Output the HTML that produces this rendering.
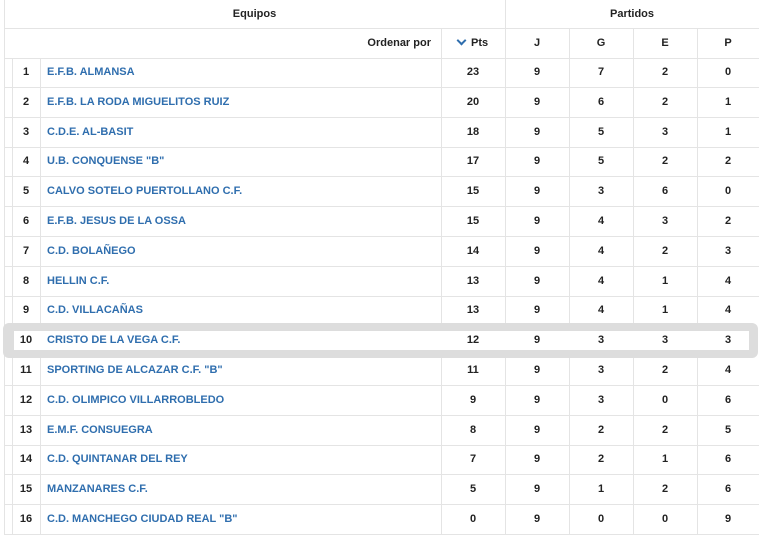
<!DOCTYPE html>
<html><head><style>
body{margin:0;width:759px;height:534px;background:#fff;font-family:"Liberation Sans",Arial,sans-serif;position:relative;overflow:hidden;font-weight:bold;font-size:11px;color:#222}
.a{position:absolute}
.vl{position:absolute;width:1px;background:#e4e4e4}
.hl{position:absolute;height:1px;background:#e4e4e4}
.c{position:absolute;text-align:center;line-height:30px;height:30px}
.n{position:absolute;line-height:30px;height:30px;color:#2f6eae}
</style></head><body>
<div class="vl" style="left:4px;top:0;height:534px"></div>
<div class="vl" style="left:505px;top:0;height:534px"></div>
<div class="vl" style="left:441px;top:28px;height:506px"></div>
<div class="vl" style="left:569px;top:28px;height:506px"></div>
<div class="vl" style="left:633px;top:28px;height:506px"></div>
<div class="vl" style="left:697px;top:28px;height:506px"></div>
<div class="vl" style="left:12px;top:58px;height:476px"></div>
<div class="vl" style="left:40px;top:58px;height:476px"></div>
<div class="hl" style="left:4px;top:28px;width:755px"></div>
<div class="hl" style="left:4px;top:58px;width:755px"></div>
<div class="c" style="left:4px;width:501px;top:0;line-height:28px">Equipos</div>
<div class="c" style="left:505px;width:254px;top:0;line-height:28px">Partidos</div>
<div class="a" style="left:300px;width:131px;top:28px;line-height:30px;text-align:right">Ordenar por</div>
<div class="a" style="left:458px;top:37px;width:5px;height:5px;border-right:2px solid #2f6eae;border-bottom:2px solid #2f6eae;transform:rotate(45deg)"></div>
<div class="a" style="left:471px;top:28px;line-height:30px">Pts</div>
<div class="c" style="left:505px;width:64px;top:28px">J</div>
<div class="c" style="left:569px;width:64px;top:28px">G</div>
<div class="c" style="left:633px;width:64px;top:28px">E</div>
<div class="c" style="left:697px;width:62px;top:28px">P</div>
<div class="a" style="left:3px;top:323px;width:755px;height:35px;background:#ddd;border-radius:6px"></div>
<div class="a" style="left:14px;top:331px;width:735px;height:19px;background:#fff"></div>
<div id="rows"></div>
<script>
var d=[["E.F.B. ALMANSA",23,9,7,2,0],["E.F.B. LA RODA MIGUELITOS RUIZ",20,9,6,2,1],["C.D.E. AL-BASIT",18,9,5,3,1],["U.B. CONQUENSE \"B\"",17,9,5,2,2],["CALVO SOTELO PUERTOLLANO C.F.",15,9,3,6,0],["E.F.B. JESUS DE LA OSSA",15,9,4,3,2],["C.D. BOLAÑEGO",14,9,4,2,3],["HELLIN C.F.",13,9,4,1,4],["C.D. VILLACAÑAS",13,9,4,1,4],["CRISTO DE LA VEGA C.F.",12,9,3,3,3],["SPORTING DE ALCAZAR C.F. \"B\"",11,9,3,2,4],["C.D. OLIMPICO VILLARROBLEDO",9,9,3,0,6],["E.M.F. CONSUEGRA",8,9,2,2,5],["C.D. QUINTANAR DEL REY",7,9,2,1,6],["MANZANARES C.F.",5,9,1,2,6],["C.D. MANCHEGO CIUDAD REAL \"B\"",0,9,0,0,9]];
var h="",xs=[441,505,569,633,697];
d.forEach(function(r,i){var t=57+i*29.8;
if(i!=9&&i!=8)h+='<div class="hl" style="left:4px;top:'+(t+30).toFixed(1)+'px;width:755px"></div>';
h+='<div class="c" style="left:12px;width:28px;top:'+t+'px">'+(i+1)+'</div>';
h+='<div class="n" style="left:47px;top:'+t+'px">'+r[0]+'</div>';
for(var k=1;k<6;k++)h+='<div class="c" style="left:'+xs[k-1]+'px;width:'+(k==5?62:64)+'px;top:'+t+'px">'+r[k]+'</div>';});
document.getElementById("rows").innerHTML=h;
</script>
</body></html>
